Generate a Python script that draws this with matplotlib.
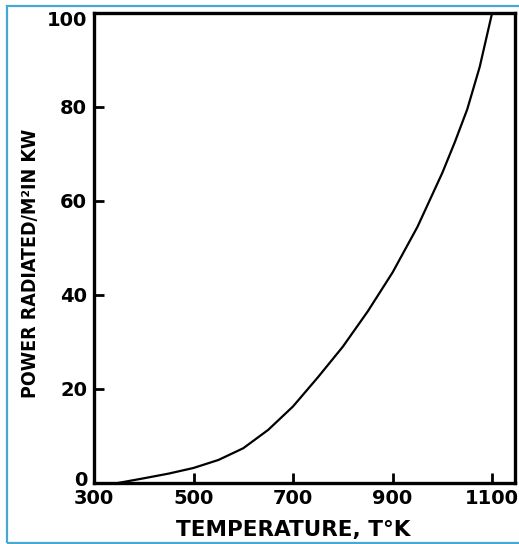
import matplotlib
matplotlib.use("Agg")
import matplotlib.pyplot as plt
from matplotlib.patches import Rectangle
from matplotlib.transforms import ScaledTranslation

# Power radiated per square metre against absolute temperature
temperature = [348, 400, 450, 500, 550, 600, 650, 700, 750, 800, 850, 900,
               950, 1000, 1025, 1050, 1075, 1100]
power_kw = [0.0, 1.0, 2.0, 3.2, 4.9, 7.4, 11.3, 16.3, 22.5, 29.0, 36.5, 44.8,
            54.5, 66.0, 72.5, 79.5, 88.5, 100.0]

x_ticks = [300, 500, 700, 900, 1100]
y_ticks = [0, 20, 40, 60, 80, 100]

W, H = 519, 544
fig = plt.figure(figsize=(W / 100, H / 100), dpi=100)
ax = fig.add_axes([94 / W, 1 - 483 / H, (515 - 94) / W, (483 - 13) / H])

ax.plot(temperature, power_kw, color="black", lw=1.6, solid_capstyle="butt")

ax.set_xlim(300, 1146)
ax.set_ylim(0, 100)
ax.set_xticks(x_ticks)
ax.set_yticks(y_ticks)
ax.tick_params(direction="in", length=7, width=2, pad=5, color="black")
for lab in ax.get_xticklabels() + ax.get_yticklabels():
    lab.set_fontfamily("DejaVu Sans")
    lab.set_fontweight("bold")
    lab.set_fontsize(14)
ax.tick_params(axis="x", pad=4)

# nudge the end labels of the y axis off the corners
yt = ax.yaxis.get_major_ticks()
yt[0].label1.set_transform(yt[0].label1.get_transform()
                           + ScaledTranslation(0, 5 / 100, fig.dpi_scale_trans))
yt[-1].label1.set_transform(yt[-1].label1.get_transform()
                            + ScaledTranslation(0, -6 / 100, fig.dpi_scale_trans))

for s in ax.spines.values():
    s.set_linewidth(2.4)

# axis titles
fig.text(31 / W, 1 - 263 / H, "POWER RADIATED/M\u00b2IN KW", rotation=90,
         ha="center", va="center", fontsize=14, fontweight="bold",
         fontstretch="condensed", family="DejaVu Sans")
fig.text(293 / W, 1 - 530 / H, "TEMPERATURE, T\u00b0K", ha="center",
         va="center", fontsize=15.5, fontweight="bold", family="DejaVu Sans")

# thin blue frame round the figure
fig.patches.append(Rectangle((7 / W, 1 - 543 / H), 1.2, (543 - 6) / H,
                             transform=fig.transFigure, fill=False,
                             edgecolor="#45a9d3", lw=1.6, clip_on=False))

fig.savefig("out.png", dpi=100)
